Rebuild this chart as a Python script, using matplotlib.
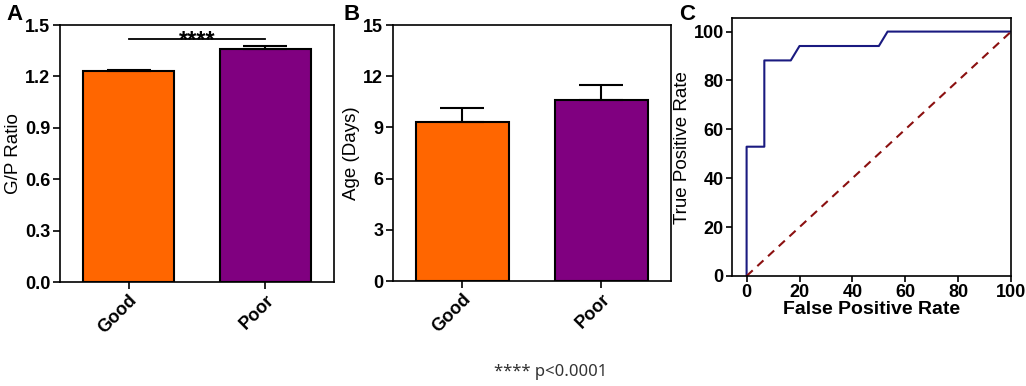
import matplotlib
matplotlib.use("Agg")
import matplotlib.pyplot as plt

plt.rcParams['font.family'] = ['Liberation Sans', 'DejaVu Sans']

grupos = ["Good", "Poor"]
colores = ["#FF6600", "#800080"]

# Panel A: G/P ratio
gp_media = [1.23, 1.36]
gp_error = [0.007, 0.016]

# Panel B: edad
edad_media = [9.33, 10.62]
edad_error = [0.82, 0.85]

# Panel C: curva ROC
fpr = [0, 0, 6.7, 6.7, 16.7, 20.0, 50.0, 53.3, 100]
tpr = [0, 52.9, 52.9, 88.2, 88.2, 94.1, 94.1, 100, 100]
azar = [0, 100]

fig = plt.figure(figsize=(10.26, 3.86), dpi=100)

def barras(ax, medias, errores, ylim, ticks, etiqueta):
    x = range(len(grupos))
    ax.bar(x, medias, width=0.67, color=colores, edgecolor="black", linewidth=1.5)
    ax.errorbar(x, medias, yerr=[[0]*len(errores), errores], fmt="none",
                ecolor="black", elinewidth=1.5, capsize=16, capthick=1.5)
    ax.set_xlim(-0.5, 1.5)
    ax.set_ylim(*ylim)
    ax.set_yticks(ticks)
    ax.set_xticks(list(x))
    ax.set_xticklabels(grupos, rotation=45, ha="right", rotation_mode="anchor",
                       fontsize=13, fontweight="bold")
    ax.set_ylabel(etiqueta, fontsize=13.5, labelpad=2)
    for s in ax.spines.values():
        s.set_linewidth(1.2)
    ax.tick_params(width=1.2, length=5, labelsize=13, pad=2)
    for t in ax.get_yticklabels():
        t.set_fontweight("bold")

axA = fig.add_axes([0.0585, 0.2694, 0.267, 0.6658])
barras(axA, gp_media, gp_error, (0, 1.5), [0, 0.3, 0.6, 0.9, 1.2, 1.5], "G/P Ratio")
axA.yaxis.set_major_formatter(matplotlib.ticker.FormatStrFormatter("%.1f"))
axA.plot([0, 1], [1.42, 1.42], color="black", linewidth=1.3)
axA.text(0.5, 1.373, "****", ha="center", va="baseline", fontsize=17, fontweight="bold")

axB = fig.add_axes([0.383, 0.272, 0.271, 0.663])
barras(axB, edad_media, edad_error, (0, 15), [0, 3, 6, 9, 12, 15], "Age (Days)")

axC = fig.add_axes([0.7135, 0.285, 0.272, 0.668])
axC.plot(fpr, tpr, color="#1a1a80", linewidth=1.5)
axC.plot(azar, azar, color="#8B1010", linewidth=1.5, linestyle=(0, (4, 3)))
axC.set_xlim(-5.5, 100)
axC.set_ylim(0, 105.5)
axC.set_xticks([0, 20, 40, 60, 80, 100])
axC.set_yticks([0, 20, 40, 60, 80, 100])
axC.set_xlabel("False Positive Rate", fontsize=14, fontweight="bold", labelpad=0)
axC.set_ylabel("True Positive Rate", fontsize=13.5, labelpad=2)
for s in axC.spines.values():
    s.set_linewidth(1.2)
axC.tick_params(width=1.2, length=4, labelsize=13, pad=2)
for t in axC.get_xticklabels() + axC.get_yticklabels():
    t.set_fontweight("bold")

fig.text(0.006, 0.962, "A", fontsize=16, fontweight="bold", va="center")
fig.text(0.335, 0.962, "B", fontsize=16, fontweight="bold", va="center")
fig.text(0.662, 0.962, "C", fontsize=16, fontweight="bold", va="center")
fig.text(0.537, 0.037, "**** p<0.0001", fontsize=12, ha="center", va="center",
         family=["Noto Sans", "DejaVu Sans"], color="#333333")

fig.savefig("out.png", dpi=100)
